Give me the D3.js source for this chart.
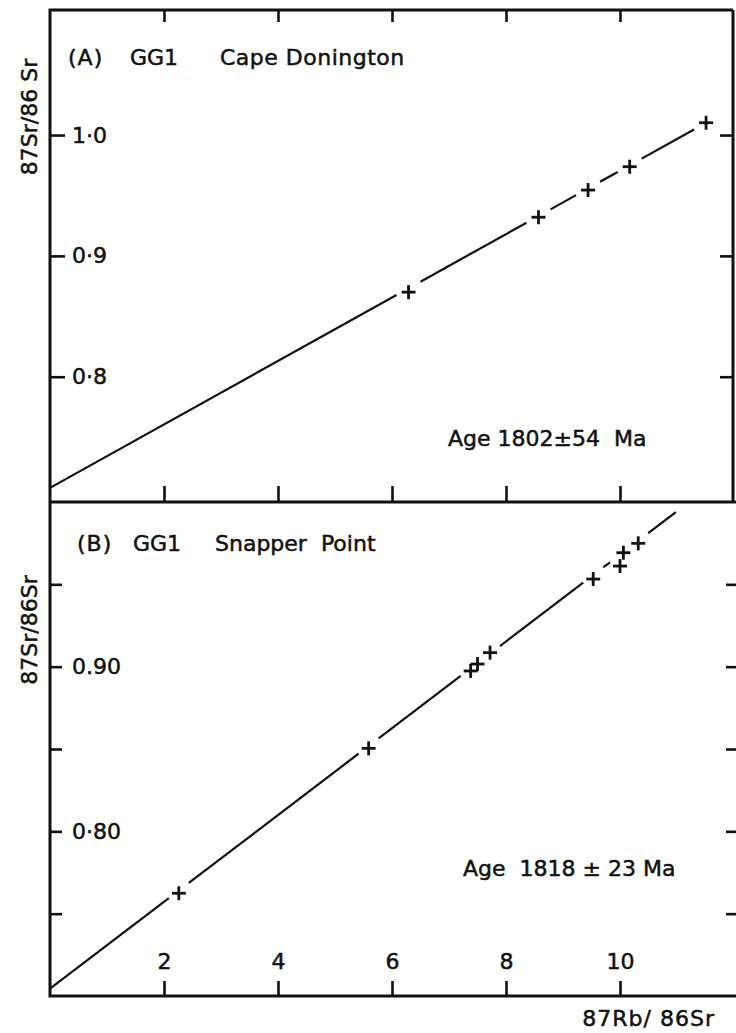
<!DOCTYPE html>
<html>
<head>
<meta charset="utf-8">
<title>Rb-Sr isochrons GG1</title>
<script src="https://d3js.org/d3.v7.min.js"></script>
<style>
  body { margin: 0; background: #fff; }
  svg text { font-family: "DejaVu Sans", sans-serif; fill: #111; stroke: #111; stroke-width: 0.5; white-space: pre; }
</style>
</head>
<body>
<script>
// ---- data ----
var xTicks = [2, 4, 6, 8, 10];
var xTickLabels = ["2", "4", "6", "8", "10"];

// panel A: Cape Donington
var aRb = [6.29, 8.57, 9.44, 10.17, 11.51];
var aSr = [0.870, 0.932, 0.9545, 0.9738, 1.0102];
var aTicks = [0.8, 0.9, 1.0];
var aTickLabels = ["0·8", "0·9", "1·0"];
var aLine = [0.708, 0.02625];   // intercept, slope
var aLineX = [0, 11.51];

// panel B: Snapper Point
var bRb = [2.26, 5.59, 7.38, 7.50, 7.72, 9.53, 10.00, 10.06, 10.32];
var bSr = [0.7624, 0.8504, 0.8974, 0.9016, 0.9085, 0.9532, 0.9611, 0.9692, 0.9749];
var bTicks = [0.75, 0.80, 0.85, 0.90, 0.95];
var bTickLabels = ["", "0·80", "", "0.90", ""];
var bLine = [0.7045, 0.02635];
var bLineX = [0, 10.98];

var W = 736, H = 1033;
var L = 50, R = 734;
var FS = 22;
var svg = d3.select("body").append("svg").attr("width", W).attr("height", H);

var x = d3.scaleLinear().domain([0, 12]).range([L, R]);
var yA = d3.scaleLinear().domain([0.6963, 1.1035]).range([502, 10]);
var yB = d3.scaleLinear().domain([0.70, 1.00]).range([996, 502]);

function styleAxis(g) {
  g.attr("font-family", null).attr("font-size", null);
  g.select(".domain").remove();
  g.selectAll(".tick line").attr("stroke", "#111").attr("stroke-width", 2.6);
  g.selectAll(".tick text").attr("font-size", FS).attr("fill", "#111");
}

function lbl(arr, ticks) { return function (d) { return arr[ticks.indexOf(d)]; }; }

// regression line broken around each point
function brokenLine(g, xs, ys, coef, xr, yScale, gap) {
  var gaps = xs.map(function (d) { return [x(d) - gap, x(d) + gap]; })
    .sort(function (a, b) { return a[0] - b[0]; });
  var segs = [], cur = x(xr[0]);
  gaps.forEach(function (gp) {
    if (gp[0] > cur) segs.push([cur, gp[0]]);
    cur = Math.max(cur, gp[1]);
  });
  if (x(xr[1]) > cur) segs.push([cur, x(xr[1])]);
  g.selectAll("line.fit").data(segs).enter().append("line")
    .attr("class", "fit")
    .attr("x1", function (d) { return d[0]; })
    .attr("x2", function (d) { return d[1]; })
    .attr("y1", function (d) { var v = x.invert(d[0]); return yScale(coef[0] + coef[1] * v); })
    .attr("y2", function (d) { var v = x.invert(d[1]); return yScale(coef[0] + coef[1] * v); })
    .attr("stroke", "#111").attr("stroke-width", 2.2);
}

function crosses(g, xs, ys, yScale, s) {
  var p = g.selectAll("g.pt").data(xs).enter().append("g").attr("class", "pt")
    .attr("transform", function (d, i) { return "translate(" + x(d) + "," + yScale(ys[i]) + ")"; });
  p.append("line").attr("x1", -s).attr("x2", s).attr("y1", 0).attr("y2", 0)
    .attr("stroke", "#111").attr("stroke-width", 2.8);
  p.append("line").attr("x1", 0).attr("x2", 0).attr("y1", -s).attr("y2", s)
    .attr("stroke", "#111").attr("stroke-width", 2.8);
}

function txt(g, x0, y0, s, ls) {
  return g.append("text").attr("x", x0).attr("y", y0).attr("font-size", FS)
    .attr("letter-spacing", ls || 0).text(s);
}

// ---------- panel A ----------
var gA = svg.append("g");
gA.append("g").attr("transform", "translate(" + L + ",0)")
  .call(d3.axisRight(yA).tickValues(aTicks).tickSize(15).tickPadding(7).tickFormat(lbl(aTickLabels, aTicks)))
  .call(styleAxis);
gA.append("g").attr("transform", "translate(" + 733 + ",0)")
  .call(d3.axisLeft(yA).tickValues(aTicks).tickSize(13).tickFormat(""))
  .call(styleAxis);
gA.append("g").attr("transform", "translate(0,10)")
  .call(d3.axisBottom(x).tickValues(xTicks).tickSize(12).tickFormat(""))
  .call(styleAxis);
gA.append("g").attr("transform", "translate(0,502)")
  .call(d3.axisTop(x).tickValues(xTicks).tickSize(16).tickFormat(""))
  .call(styleAxis);

brokenLine(gA, aRb, aSr, aLine, aLineX, yA, 12);
crosses(gA, aRb, aSr, yA, 7);

txt(gA, 68, 65, "(A)", 1);
txt(gA, 130, 65, "GG1", 0);
txt(gA, 220, 65, "Cape Donington", 0.5);
txt(gA, 448, 446, "Age 1802±54  Ma", 0);
gA.append("text").attr("transform", "translate(37,117) rotate(-90)")
  .attr("text-anchor", "middle").attr("font-size", FS).text("87Sr/86 Sr");

// ---------- panel B ----------
var gB = svg.append("g");
gB.append("g").attr("transform", "translate(" + L + ",0)")
  .call(d3.axisRight(yB).tickValues(bTicks).tickSize(12).tickPadding(10).tickFormat(lbl(bTickLabels, bTicks)))
  .call(styleAxis);
gB.append("g").attr("transform", "translate(" + 737 + ",0)")
  .call(d3.axisLeft(yB).tickValues(bTicks).tickSize(11).tickFormat(""))
  .call(styleAxis);
gB.append("g").attr("transform", "translate(0,996)")
  .call(d3.axisTop(x).tickValues(xTicks).tickSize(15).tickPadding(12).tickFormat(lbl(xTickLabels, xTicks)))
  .call(styleAxis);

brokenLine(gB, bRb, bSr, bLine, bLineX, yB, 10);
crosses(gB, bRb, bSr, yB, 7);

txt(gB, 77, 551, "(B)", 1);
txt(gB, 133, 551, "GG1", 0);
txt(gB, 215, 551, "Snapper  Point", 0);
txt(gB, 463, 876, "Age  1818 ± 23 Ma", 0);
gB.append("text").attr("transform", "translate(37,630) rotate(-90)")
  .attr("text-anchor", "middle").attr("font-size", FS).text("87Sr/86Sr");
svg.append("text").attr("x", 715).attr("y", 1026).attr("text-anchor", "end")
  .attr("font-size", FS).attr("letter-spacing", 1).text("87Rb/ 86Sr");

// ---------- frames ----------
var fr = svg.append("g").attr("stroke", "#111").attr("stroke-width", 3).attr("fill", "none");
fr.append("path").attr("d", "M" + 733 + ",10 H" + L + " V996 H" + W);
fr.append("path").attr("d", "M" + L + ",502 H" + W);
fr.append("path").attr("d", "M" + 733 + ",10 V502");
</script>
</body>
</html>
